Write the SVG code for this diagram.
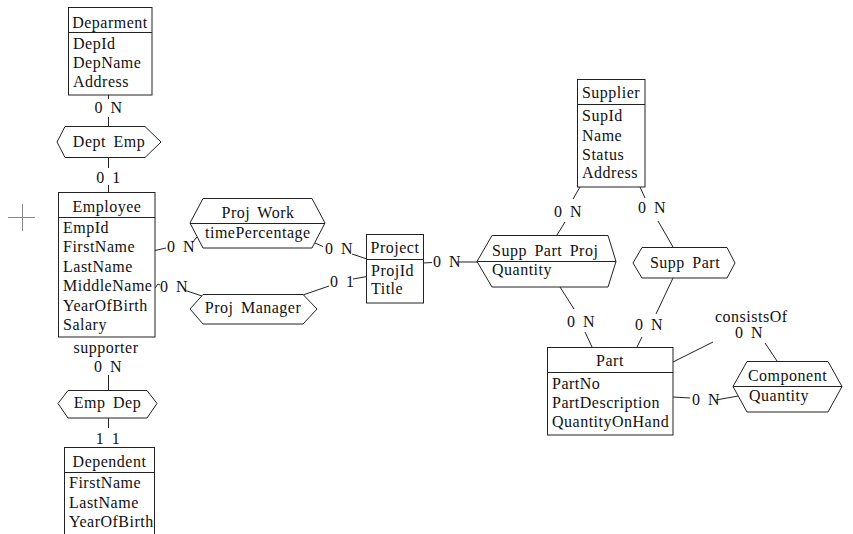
<svg xmlns="http://www.w3.org/2000/svg" width="853" height="534" viewBox="0 0 853 534">
  <style>
    .box { fill: #ffffff; stroke: #222222; stroke-width: 1; }
    .sep { stroke: #222222; stroke-width: 1; fill: none; }
    .ln { stroke: #222222; stroke-width: 1; fill: none; }
    .t { font-family: "Liberation Serif", "Times New Roman", serif; font-size: 16px; letter-spacing: 0.5px; word-spacing: 3px; fill: #111111; }
    .c { text-anchor: middle; }
    .mark { stroke: #888888; stroke-width: 1; fill: none; }
  </style>
  <rect width="853" height="534" fill="#ffffff"/>

  <!-- stray cross mark at the left edge -->
  <path class="mark" d="M8 217.5 H35 M22.5 204 V231"/>

  <!-- connectors and cardinality labels -->
  <g id="connectors">
    <!-- Deparment - Dept Emp - Employee -->
    <path class="ln" d="M108.5 95 V99 M108.5 117 V126 M108.5 157 V168 M108.5 185 V192"/>
    <text class="t c" x="108.5" y="113">0 N</text>
    <text class="t c" x="108.5" y="183">0 1</text>

    <!-- Employee - Emp Dep - Dependent -->
    <path class="ln" d="M108.5 375 V390 M108.5 418 V428"/>
    <text class="t c" x="108" y="372">0 N</text>
    <text class="t c" x="108" y="444">1 1</text>

    <!-- Employee - Proj Work - Project -->
    <path class="ln" d="M155 250.5 L166 248 M192 243 L197 237 M315 243 L323 246.5 M352 254 L367 259"/>
    <text class="t" x="167" y="252">0 N</text>
    <text class="t" x="325" y="254">0 N</text>

    <!-- Employee - Proj Manager - Project -->
    <path class="ln" d="M155 288 L158 284 L160 285 M184 290 L202 296 M303 295 L329 286 M353 279 L367 276.5"/>
    <text class="t" x="160" y="292">0 N</text>
    <text class="t" x="330" y="287">0 1</text>

    <!-- Project - Supp Part Proj -->
    <path class="ln" d="M423 263 L432 262.5 M457 262 H477"/>
    <text class="t" x="433" y="267">0 N</text>

    <!-- Supplier - Supp Part Proj -->
    <path class="ln" d="M580 187 L573 199 M565 222 L557 235"/>
    <text class="t" x="554" y="217">0 N</text>

    <!-- Supplier - Supp Part -->
    <path class="ln" d="M640 187 L645 198 M658 221 L673 247"/>
    <text class="t" x="638" y="213">0 N</text>

    <!-- Supp Part Proj - Part -->
    <path class="ln" d="M560 287 L574 309 M585 332 L592 347"/>
    <text class="t" x="567" y="327">0 N</text>

    <!-- Supp Part - Part -->
    <path class="ln" d="M673 278 L656 314 M642 337 L637 347"/>
    <text class="t" x="635" y="330">0 N</text>

    <!-- Part - Component (recursive) -->
    <path class="ln" d="M673 362 L713 342 M765 343 L777 361 M673 397 L690 398 M716 400 L738 396"/>
    <text class="t" x="715" y="322">consistsOf</text>
    <text class="t" x="735" y="338">0 N</text>
    <text class="t" x="692" y="405">0 N</text>

    <!-- supporter role name -->
    <text class="t c" x="106" y="353">supporter</text>
  </g>

  <!-- entities -->
  <g id="deparment">
    <rect class="box" x="68.5" y="7.5" width="83.5" height="87.5"/>
    <path class="sep" d="M68.5 32.5 H152"/>
    <text class="t c" x="110" y="28">Deparment</text>
    <text class="t" x="73" y="49">DepId</text>
    <text class="t" x="73" y="68">DepName</text>
    <text class="t" x="73" y="87">Address</text>
  </g>

  <g id="employee">
    <rect class="box" x="58.5" y="192.5" width="96.5" height="144.5"/>
    <path class="sep" d="M58.5 217.5 H155"/>
    <text class="t c" x="107" y="212">Employee</text>
    <text class="t" x="63" y="233">EmpId</text>
    <text class="t" x="63" y="252">FirstName</text>
    <text class="t" x="63" y="272">LastName</text>
    <text class="t" x="63" y="291">MiddleName</text>
    <text class="t" x="63" y="311">YearOfBirth</text>
    <text class="t" x="63" y="330">Salary</text>
  </g>

  <g id="dependent">
    <rect class="box" x="64.5" y="447.5" width="90" height="100"/>
    <path class="sep" d="M64.5 472.5 H154.5"/>
    <text class="t c" x="109.5" y="467">Dependent</text>
    <text class="t" x="69" y="488">FirstName</text>
    <text class="t" x="69" y="508">LastName</text>
    <text class="t" x="69" y="527">YearOfBirth</text>
  </g>

  <g id="project">
    <rect class="box" x="366.5" y="234.5" width="57" height="68.5"/>
    <path class="sep" d="M366.5 259.5 H423.5"/>
    <text class="t c" x="395" y="253">Project</text>
    <text class="t" x="371" y="276">ProjId</text>
    <text class="t" x="371" y="294">Title</text>
  </g>

  <g id="supplier">
    <rect class="box" x="577.5" y="79.5" width="67.5" height="107.5"/>
    <path class="sep" d="M577.5 104.5 H645"/>
    <text class="t c" x="611" y="98">Supplier</text>
    <text class="t" x="582" y="121">SupId</text>
    <text class="t" x="582" y="141">Name</text>
    <text class="t" x="582" y="160">Status</text>
    <text class="t" x="582" y="178">Address</text>
  </g>

  <g id="part">
    <rect class="box" x="547.5" y="347.5" width="125.5" height="87.5"/>
    <path class="sep" d="M547.5 372.5 H673"/>
    <text class="t c" x="610" y="366">Part</text>
    <text class="t" x="552" y="389">PartNo</text>
    <text class="t" x="552" y="408">PartDescription</text>
    <text class="t" x="552" y="427">QuantityOnHand</text>
  </g>

  <!-- relationships -->
  <g id="dept-emp">
    <polygon class="box" points="57,142 65,126.5 145,126.5 161,142 145,157.5 65,157.5"/>
    <text class="t c" x="109" y="147">Dept Emp</text>
  </g>

  <g id="emp-dep">
    <polygon class="box" points="58,403.5 68,390.5 147,390.5 157,403.5 147,418 68,418"/>
    <text class="t c" x="107.5" y="408">Emp Dep</text>
  </g>

  <g id="proj-work">
    <polygon class="box" points="190,223 203,198.5 312,198.5 325,223 312,248 203,248"/>
    <path class="sep" d="M190 223.5 H325"/>
    <text class="t c" x="258" y="218">Proj Work</text>
    <text class="t" x="205" y="238">timePercentage</text>
  </g>

  <g id="proj-manager">
    <polygon class="box" points="190,309 203,294.5 303,294.5 317,309 303,324 203,324"/>
    <text class="t c" x="253" y="313">Proj Manager</text>
  </g>

  <g id="supp-part-proj">
    <polygon class="box" points="477,261.5 492,235.5 608,235.5 616,261.5 608,287 492,287"/>
    <path class="sep" d="M477 261.5 H616"/>
    <text class="t" x="492" y="256">Supp Part Proj</text>
    <text class="t" x="492" y="275">Quantity</text>
  </g>

  <g id="supp-part">
    <polygon class="box" points="633,263 642,247.5 727,247.5 735,263 727,278 642,278"/>
    <text class="t c" x="685" y="268">Supp Part</text>
  </g>

  <g id="component">
    <polygon class="box" points="733,386.5 747,361.5 828,361.5 842,386.5 828,412 747,412"/>
    <path class="sep" d="M733 386.5 H842"/>
    <text class="t c" x="787.5" y="381">Component</text>
    <text class="t" x="749" y="401">Quantity</text>
  </g>
</svg>
